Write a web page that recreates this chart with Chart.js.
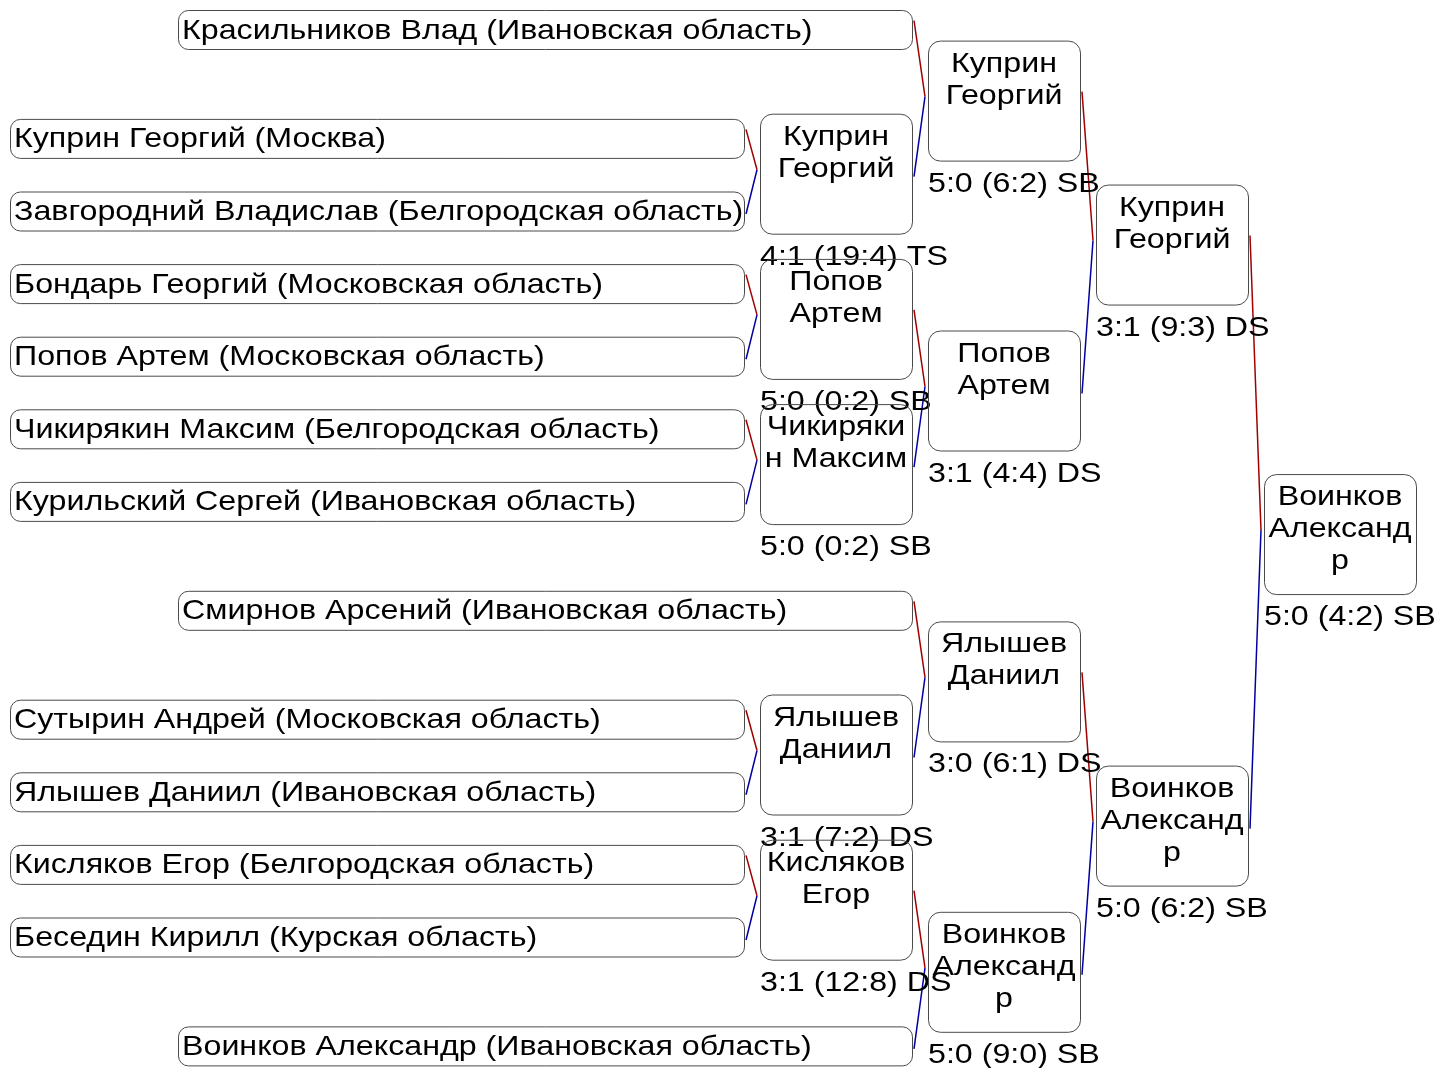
<!DOCTYPE html>
<html>
<head>
<meta charset="utf-8">
<script src="https://cdn.jsdelivr.net/npm/chart.js@4/dist/chart.umd.min.js"></script>
<style>
html, body { margin: 0; padding: 0; background: #fff; }
canvas { display: block; }
</style>
</head>
<body>
<canvas id="bracket" width="1437" height="1068"></canvas>
<script>
// players in the first column, top to bottom
var leafNames = [
    "Красильников Влад (Ивановская область)",
    "Куприн Георгий (Москва)",
    "Завгородний Владислав (Белгородская область)",
    "Бондарь Георгий (Московская область)",
    "Попов Артем (Московская область)",
    "Чикирякин Максим (Белгородская область)",
    "Курильский Сергей (Ивановская область)",
    "Смирнов Арсений (Ивановская область)",
    "Сутырин Андрей (Московская область)",
    "Ялышев Даниил (Ивановская область)",
    "Кисляков Егор (Белгородская область)",
    "Беседин Кирилл (Курская область)",
    "Воинков Александр (Ивановская область)"
];

// who meets whom in each round (L = player, R1_0 = winner of first match of round 1 ...)
var round1Pairs = [["L1", "L2"], ["L3", "L4"], ["L5", "L6"], ["L8", "L9"], ["L10", "L11"]];
var round2Pairs = [["L0", "R1_0"], ["R1_1", "R1_2"], ["L7", "R1_3"], ["R1_4", "L12"]];
var round3Pairs = [["R2_0", "R2_1"], ["R2_2", "R2_3"]];
var round4Pairs = [["R3_0", "R3_1"]];

var round1Winners = ["Куприн Георгий", "Попов Артем", "Чикирякин Максим", "Ялышев Даниил", "Кисляков Егор"];
var round2Winners = ["Куприн Георгий", "Попов Артем", "Ялышев Даниил", "Воинков Александр"];
var round3Winners = ["Куприн Георгий", "Воинков Александр"];
var round4Winners = ["Воинков Александр"];

var round1Scores = ["4:1 (19:4) TS", "5:0 (0:2) SB", "5:0 (0:2) SB", "3:1 (7:2) DS", "3:1 (12:8) DS"];
var round2Scores = ["5:0 (6:2) SB", "3:1 (4:4) DS", "3:0 (6:1) DS", "5:0 (9:0) SB"];
var round3Scores = ["3:1 (9:3) DS", "5:0 (6:2) SB"];
var round4Scores = ["5:0 (4:2) SB"];

// layout, in scale units (the scales map 1 unit to 1 px)
var W = 1437, H = 1068;
var TOP = 29.5, ROW = 72.6;
var LEAF_X = 10, LEAF_W = 734, LEAF_H = 39;
var COL = 168, GAP = 16, BOX_W = 152, BOX_H = 120;
var FONT = "28px 'Liberation Sans', Arial, sans-serif";
var SX = 1.15; // text is drawn a bit wider than the font

var rounds = [
    { pairs: round1Pairs, winners: round1Winners, scores: round1Scores },
    { pairs: round2Pairs, winners: round2Winners, scores: round2Scores },
    { pairs: round3Pairs, winners: round3Winners, scores: round3Scores },
    { pairs: round4Pairs, winners: round4Winners, scores: round4Scores }
];

// build node boxes from the bracket
var nodes = {};
var firstRound = {};
round1Pairs.forEach(function (p) { firstRound[p[0]] = 1; firstRound[p[1]] = 1; });

var row = 0;
leafNames.forEach(function (name, i) {
    var id = "L" + i;
    var bye = !firstRound[id];
    if (i > 0) {
        var prevBye = !firstRound["L" + (i - 1)];
        row += (bye || prevBye) ? 1.5 : 1;
    }
    var yc = TOP + row * ROW;
    var x0 = LEAF_X + (bye ? COL : 0);
    nodes[id] = { leaf: true, text: name, x0: x0, x1: x0 + LEAF_W, yc: yc,
        y0: yc - LEAF_H / 2, y1: yc + LEAF_H / 2 };
});

var redLinks = [], blueLinks = [];
rounds.forEach(function (r, k) {
    r.pairs.forEach(function (p, j) {
        var a = nodes[p[0]], b = nodes[p[1]];
        var yc = (a.yc + b.yc) / 2 - 1;
        var x0 = LEAF_X + LEAF_W + GAP + k * COL;
        var n = { leaf: false, text: r.winners[j], score: r.scores[j],
            x0: x0, x1: x0 + BOX_W, yc: yc, y0: yc - BOX_H / 2, y1: yc + BOX_H / 2 };
        nodes["R" + (k + 1) + "_" + j] = n;
        var jx = n.x0 - 3, jy = n.yc - 4;
        redLinks.push({ x: a.x1 + 2, y: a.yc - 9 }, { x: jx, y: jy }, { x: jx, y: null });
        blueLinks.push({ x: jx, y: jy }, { x: b.x1 + 2, y: b.yc + 3 }, { x: jx, y: null });
    });
});

function wrap(ctx, text, maxW) {
    var lines = [], line = "";
    var words = text.split(" ");
    words.forEach(function (w) {
        var tryLine = line ? line + " " + w : w;
        if (ctx.measureText(tryLine).width * SX <= maxW) { line = tryLine; return; }
        if (line) { lines.push(line); line = ""; }
        // word too long: break by letters
        var cur = "";
        for (var c = 0; c < w.length; c++) {
            if (ctx.measureText(cur + w[c]).width * SX > maxW && cur) { lines.push(cur); cur = ""; }
            cur += w[c];
        }
        line = cur;
    });
    if (line) lines.push(line);
    return lines;
}

function stretchedText(ctx, t, x, y, align) {
    ctx.save();
    ctx.translate(x, y);
    ctx.scale(SX, 1);
    ctx.textAlign = align;
    ctx.fillText(t, 0, 0);
    ctx.restore();
}

var boxPlugin = {
    id: "boxes",
    afterDatasetsDraw: function (chart) {
        var ctx = chart.ctx;
        var xs = chart.scales.x, ys = chart.scales.y;
        ctx.save();
        ctx.font = FONT;
        ctx.fillStyle = "#000";
        ctx.textBaseline = "alphabetic";
        Object.keys(nodes).forEach(function (id) {
            var n = nodes[id];
            var px0 = xs.getPixelForValue(n.x0), px1 = xs.getPixelForValue(n.x1);
            var py0 = ys.getPixelForValue(n.y0), py1 = ys.getPixelForValue(n.y1);
            ctx.beginPath();
            ctx.roundRect(px0 + 0.5, py0 + 0.5, px1 - px0, py1 - py0, n.leaf ? 10 : 12);
            ctx.strokeStyle = "#4a4a4a";
            ctx.lineWidth = 1;
            ctx.stroke();
            if (n.leaf) {
                stretchedText(ctx, n.text, px0 + 4, ys.getPixelForValue(n.yc) + 9, "left");
            } else {
                var lines = wrap(ctx, n.text, px1 - px0 - 6);
                var cx = (px0 + px1) / 2;
                lines.forEach(function (l, i) {
                    stretchedText(ctx, l, cx, py0 + 31 + i * 32, "center");
                });
                stretchedText(ctx, n.score, px0, py1 + 31, "left");
            }
        });
        ctx.restore();
    }
};

new Chart(document.getElementById("bracket"), {
    type: "scatter",
    data: {
        datasets: [
            { data: redLinks, showLine: true, spanGaps: false, borderColor: "#a00000",
              borderWidth: 1.5, pointRadius: 0, fill: false },
            { data: blueLinks, showLine: true, spanGaps: false, borderColor: "#0000a0",
              borderWidth: 1.5, pointRadius: 0, fill: false }
        ]
    },
    options: {
        responsive: false,
        animation: false,
        layout: { padding: 0 },
        scales: {
            x: { type: "linear", min: 0, max: W, display: false },
            y: { type: "linear", min: 0, max: H, reverse: true, display: false }
        },
        plugins: { legend: { display: false }, tooltip: { enabled: false } }
    },
    plugins: [boxPlugin]
});
</script>
</body>
</html>
